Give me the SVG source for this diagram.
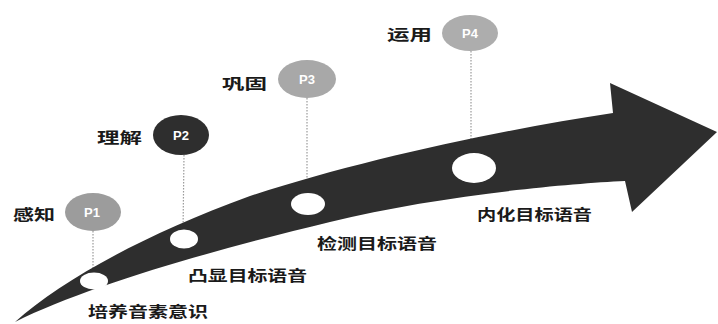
<svg xmlns="http://www.w3.org/2000/svg" width="718" height="324" viewBox="0 0 718 324">
<style>
.lbl{font-family:"Noto Sans CJK SC","Liberation Sans",sans-serif;font-weight:bold;font-size:15px;fill:#1a1a1a}
.ptx{font-family:"Liberation Sans","Noto Sans CJK SC",sans-serif;font-weight:bold;font-size:13px;fill:#ffffff;text-anchor:middle}
.dot{stroke:#9a9a9a;stroke-width:1.2;stroke-dasharray:1.5 1.5;fill:none}
.hole{fill:#ffffff}
</style>
<rect width="718" height="324" fill="#ffffff"/>
<g id="connectors">
<line class="dot" x1="93" y1="231" x2="93" y2="275"/>
<line class="dot" x1="184" y1="155" x2="183" y2="232"/>
<line class="dot" x1="307" y1="98" x2="307" y2="195"/>
<line class="dot" x1="471" y1="51" x2="471" y2="155"/>
</g>
<g id="arrow">
<path d="M15,322 C60,282 140,236 250,196 C360,160 500,130 613,113 L610,83 L717,132 L632,212 L625,181 C560,184 430,197 330,222 C230,246 90,284 15,322 Z" fill="#2e2e2e"/>
</g>
<g id="stage1">
<ellipse class="hole" cx="94" cy="281" rx="14" ry="8.5"/>
<ellipse cx="93" cy="212" rx="28" ry="19" fill="#9c9c9c"/>
<text class="ptx" x="92" y="217">P1</text>
<text class="lbl" x="13" y="220" textLength="42" lengthAdjust="spacingAndGlyphs">感知</text>
<text class="lbl" x="88" y="317" textLength="120" lengthAdjust="spacingAndGlyphs">培养音素意识</text>
</g>
<g id="stage2">
<ellipse class="hole" cx="184" cy="239" rx="14" ry="9.5"/>
<ellipse cx="181" cy="135" rx="28" ry="20" fill="#2e2e2e"/>
<text class="ptx" x="181" y="140">P2</text>
<text class="lbl" x="97" y="143" textLength="45" lengthAdjust="spacingAndGlyphs">理解</text>
<text class="lbl" x="188" y="281" textLength="119" lengthAdjust="spacingAndGlyphs">凸显目标语音</text>
</g>
<g id="stage3">
<ellipse class="hole" cx="308" cy="204" rx="17" ry="11"/>
<ellipse cx="307" cy="79" rx="29" ry="19" fill="#a8a8a8"/>
<text class="ptx" x="307" y="84">P3</text>
<text class="lbl" x="222" y="89" textLength="45" lengthAdjust="spacingAndGlyphs">巩固</text>
<text class="lbl" x="317" y="249" textLength="120" lengthAdjust="spacingAndGlyphs">检测目标语音</text>
</g>
<g id="stage4">
<ellipse class="hole" cx="474" cy="168" rx="22" ry="15"/>
<ellipse cx="470" cy="33" rx="28" ry="18" fill="#adadad"/>
<text class="ptx" x="470" y="38">P4</text>
<text class="lbl" x="387" y="40" textLength="45" lengthAdjust="spacingAndGlyphs">运用</text>
<text class="lbl" x="477" y="220" textLength="115" lengthAdjust="spacingAndGlyphs">内化目标语音</text>
</g>
</svg>
